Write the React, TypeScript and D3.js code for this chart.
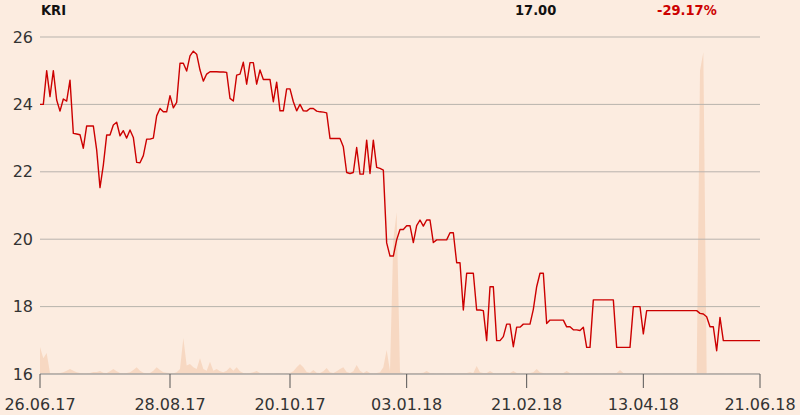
import React from "react";
import * as d3 from "d3";

const W = 800;
const H = 415;

const tickLabels = ["26.06.17", "28.08.17", "20.10.17", "03.01.18", "21.02.18", "13.04.18", "21.06.18"];
const tickIndex = [0, 39, 75, 110, 146, 181, 216];
const yTicks = [16, 18, 20, 22, 24, 26];

const prices = [
  24.0, 24.0, 25.0, 24.23, 25.0, 24.13, 23.8, 24.16, 24.1, 24.72,
  23.14, 23.12, 23.1, 22.7, 23.36, 23.36, 23.36, 22.65, 21.53, 22.2,
  23.09, 23.09, 23.39, 23.47, 23.07, 23.22, 23.0, 23.24, 23.02, 22.28,
  22.27, 22.48, 22.97, 22.97, 23.0, 23.66, 23.88, 23.78, 23.78, 24.26,
  23.9, 24.06, 25.22, 25.22, 24.99, 25.44, 25.58, 25.49, 25.02, 24.69,
  24.9, 24.97, 24.97, 24.97, 24.96, 24.96, 24.95, 24.18, 24.1, 24.87,
  24.9, 25.25, 24.6, 25.24, 25.24, 24.6, 25.02, 24.74, 24.74, 24.74,
  24.08, 24.66, 23.81, 23.81, 24.46, 24.46, 24.08, 23.81, 24.0, 23.81,
  23.8, 23.88, 23.88, 23.8, 23.78, 23.77, 23.75, 22.99, 22.99, 22.99,
  22.99, 22.74, 21.98, 21.95, 21.98, 22.72, 21.93, 21.93, 22.94, 21.95,
  22.94, 22.13, 22.1, 22.05, 19.89, 19.5, 19.5, 19.98, 20.29, 20.29,
  20.4, 20.4, 19.9, 20.4, 20.57, 20.39, 20.57, 20.57, 19.9, 19.98,
  19.98, 19.98, 19.98, 20.19, 20.19, 19.3, 19.3, 17.9, 18.99, 18.99,
  18.99, 17.9, 17.9, 17.88, 16.99, 18.59, 18.59, 16.99, 16.99, 17.11,
  17.48, 17.48, 16.81, 17.39, 17.39, 17.48, 17.48, 17.48, 17.92, 18.59,
  18.99, 18.99, 17.5, 17.6, 17.6, 17.6, 17.6, 17.6, 17.4, 17.4,
  17.31, 17.31, 17.29, 17.39, 16.79, 16.79, 18.2, 18.2, 18.2, 18.2,
  18.2, 18.2, 18.2, 16.79, 16.79, 16.79, 16.79, 16.79, 18.0, 18.0,
  18.0, 17.19, 17.88, 17.88, 17.88, 17.88, 17.88, 17.88, 17.88, 17.88,
  17.88, 17.88, 17.88, 17.88, 17.88, 17.88, 17.88, 17.88, 17.8, 17.78,
  17.7, 17.4, 17.4, 16.69, 17.68, 16.99, 16.99, 16.99, 16.99, 16.99,
  16.99, 16.99, 16.99, 16.99, 16.99, 16.99, 16.99,
];

const volumes = [
  8.0, 4.7, 6.2, 0.3, 0.2, 0.2, 0.3, 0.5, 1.0, 1.5,
  1.0, 0.5, 0.3, 0.2, 0.2, 0.3, 0.6, 0.6, 0.9, 0.4,
  0.3, 0.8, 1.5, 0.8, 0.3, 0.2, 0.3, 0.5, 1.2, 2.0,
  1.0, 0.4, 0.2, 0.3, 1.0, 2.0, 1.2, 0.5, 0.4, 0.3,
  0.2, 0.5, 1.5, 10.7, 2.5, 3.0, 2.0, 1.5, 4.7, 1.5,
  1.0, 3.6, 1.0, 1.5, 0.8, 0.5, 1.0, 2.0, 1.0, 2.0,
  0.8, 0.3, 0.2, 0.3, 0.5, 0.9, 0.3, 0.2, 0.3, 0.3,
  0.2, 0.3, 0.3, 0.2, 0.3, 0.3, 0.8, 2.0, 3.0, 2.0,
  0.6, 0.4, 1.2, 0.4, 0.3, 0.8, 1.8, 0.5, 0.3, 0.8,
  1.5, 2.0, 0.6, 0.3, 0.8, 2.7, 1.0, 0.3, 0.9, 0.3,
  0.2, 0.3, 0.5, 2.0, 7.1, 0.8, 40.0, 48.0, 0.5, 0.3,
  0.3, 0.3, 0.3, 0.3, 0.3, 0.4, 0.9, 0.3, 0.3, 0.2,
  0.3, 0.3, 0.2, 0.3, 0.3, 0.2, 0.3, 0.3, 0.3, 0.5,
  0.3, 2.4, 0.5, 0.3, 0.3, 0.9, 0.3, 0.2, 0.3, 0.3,
  0.3, 0.3, 0.9, 0.3, 0.2, 0.3, 0.3, 0.3, 0.5, 1.5,
  0.5, 0.3, 0.2, 0.3, 0.3, 0.3, 0.3, 0.3, 0.9, 0.3,
  0.2, 0.3, 0.3, 0.2, 0.3, 0.3, 0.3, 0.3, 0.2, 0.3,
  0.3, 0.3, 0.3, 0.3, 1.2, 0.3, 0.2, 0.3, 0.3, 0.3,
  0.3, 0.2, 0.3, 0.3, 0.3, 0.3, 0.2, 0.3, 0.3, 0.3,
  0.3, 0.2, 0.3, 0.3, 0.3, 0.3, 0.2, 0.0, 90.0, 95.5,
  0.0, 0.3, 0.3, 0.3, 0.3, 0.3, 0.2, 0.3, 0.3, 0.3,
  0.3, 0.3, 0.3, 0.3, 0.3, 0.3, 0.3,
];

const ticker = "KRI";
const lastPrice = "17.00";
const change = "-29.17%";

export default function App() {
  const left = 40, right = 760, top = 37, bottom = 374;
  const x = d3.scaleLinear().domain([0, prices.length - 1]).range([left, right]);
  const y = d3.scaleLinear().domain([16, 26]).range([bottom, top]);
  const v = d3.scaleLinear().domain([0, 100]).range([0, bottom - top]);

  const line = d3.line<number>().x((_, i) => x(i)).y((d) => y(d));
  const area = d3
    .area<number>()
    .x((_, i) => x(i))
    .y0(bottom)
    .y1((d) => bottom - v(d));

  const font = "'DejaVu Sans', sans-serif";
  const condensed = "'DejaVu Sans Condensed', 'DejaVu Sans', sans-serif";

  return (
    <svg
      width={W}
      height={H}
      style={{ position: "absolute", left: 0, top: 0, background: "#fcece0" }}
    >
      <rect x={0} y={0} width={W} height={H} fill="#fcece0" />
      <path d={area(volumes) || ""} fill="#f7d8c2" />
      {yTicks.filter((t) => t !== 16).map((t) => (
        <line key={t} x1={left} x2={right} y1={y(t)} y2={y(t)} stroke="#b8b3ad" strokeWidth={1} />
      ))}
      {yTicks.map((t) => (
        <text
          key={"l" + t}
          x={33}
          y={y(t)}
          textAnchor="end"
          dominantBaseline="central"
          fontFamily={font}
          fontSize={16}
          fill="#333"
        >
          {t}
        </text>
      ))}
      <path d={line(prices) || ""} fill="none" stroke="#cc0000" strokeWidth={1.4} strokeLinejoin="round" />
      <line x1={left} x2={right} y1={bottom} y2={bottom} stroke="#a9a6a3" strokeWidth={1.5} />
      {tickIndex.map((ti, k) => (
        <g key={"t" + k}>
          <line x1={x(ti)} x2={x(ti)} y1={bottom} y2={bottom + 14} stroke="#555" strokeWidth={1} />
          <text
            x={x(ti)}
            y={410}
            textAnchor="middle"
            fontFamily={font}
            fontSize={16}
            fill="#333"
          >
            {tickLabels[k]}
          </text>
        </g>
      ))}
      <text x={41} y={15} fontFamily={condensed} fontWeight="bold" fontSize={14.5} fill="#111">
        {ticker}
      </text>
      <text x={515} y={15} fontFamily={condensed} fontWeight="bold" fontSize={14.5} fill="#111">
        {lastPrice}
      </text>
      <text x={657} y={15} fontFamily={condensed} fontWeight="bold" fontSize={14.5} fill="#cc0000">
        {change}
      </text>
    </svg>
  );
}
